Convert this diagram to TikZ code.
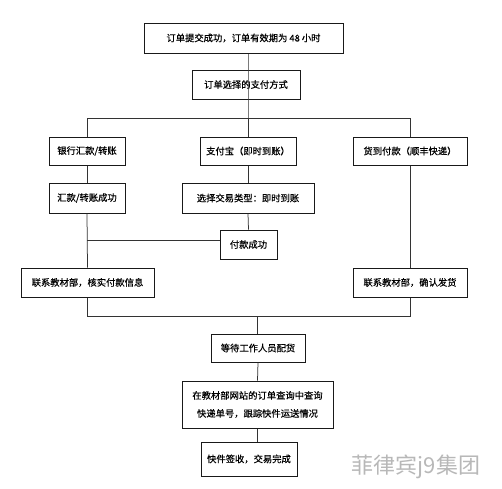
\documentclass[tikz,border=0pt]{standalone}
\usepackage{fontspec}
\setmainfont{Noto Sans CJK SC}
\newfontfamily\boxfont[FakeBold=0.5]{Noto Sans CJK SC}
\newfontfamily\wmfont{Noto Sans CJK SC}
\begin{document}
\begin{tikzpicture}[x=1pt,y=-1pt,
  flowbox/.style={draw=black!90, line width=1pt, inner sep=0pt, align=center,
    font=\boxfont\fontsize{9.3}{18}\selectfont, text=black},
  conn/.style={draw=black!80, line width=0.75pt}]
\useasboundingbox (0,0) rectangle (502,488);
\fill[white] (0,0) rectangle (502,488);
% boxes
\node[flowbox, minimum width=199pt, minimum height=30pt] (b1) at (243.5,38) {订单提交成功，订单有效期为 48 小时};
\node[flowbox, minimum width=108pt, minimum height=29pt] (b2) at (246,84.5) {订单选择的支付方式};
\node[flowbox, minimum width=76pt, minimum height=28pt] (b3) at (87,151) {银行汇款/转账};
\node[flowbox, minimum width=96pt, minimum height=28pt] (b4) at (248,151) {支付宝（即时到账）};
\node[flowbox, minimum width=114pt, minimum height=28pt] (b5) at (410,151) {货到付款（顺丰快递）};
\node[flowbox, minimum width=76pt, minimum height=30pt] (b6) at (87,198) {汇款/转账成功};
\node[flowbox, minimum width=132pt, minimum height=30pt] (b7) at (248,198) {选择交易类型：即时到账};
\node[flowbox, minimum width=57pt, minimum height=29pt] (b8) at (248.5,244.5) {付款成功};
\node[flowbox, minimum width=133pt, minimum height=29pt] (b9) at (87.5,282.5) {联系教材部，核实付款信息};
\node[flowbox, minimum width=114pt, minimum height=29pt] (b10) at (410,282.5) {联系教材部，确认发货};
\node[flowbox, minimum width=94pt, minimum height=28pt] (b11) at (258,348) {等待工作人员配货};
\node[flowbox, minimum width=151pt, minimum height=47pt] (b12) at (257.5,404.5) {在教材部网站的订单查询中查询\\快递单号，跟踪快件运送情况};
\node[flowbox, minimum width=96pt, minimum height=34pt] (b13) at (249,459) {快件签收，交易完成};
% watermark
\node[text=black!28, font=\wmfont\fontsize{22}{24}\selectfont, inner sep=0pt] (wm) at (416,467) {菲律宾j9集团};
% junction coordinates
\coordinate (jl) at (87,118);
\coordinate (jr) at (410,118);
\coordinate (ml) at (87.5,316);
\coordinate (mr) at (410,316);
\coordinate (mc) at (257,316);
\coordinate (k) at ([yshift=4.5pt]b8.west);
% connectors
\draw[conn] (b1.south -| b4) -- (b2.south -| b4) -- (b4.north);
\draw[conn] (jl) -- (jr);
\draw[conn] (jl) -- (b3.north);
\draw[conn] (jr) -- (b5.north);
\draw[conn] (b3.south) -- (b6.north);
\draw[conn] (b4.south) -- (b7.north);
\draw[conn] (b7.south) -- (b8.north);
\draw[conn] (b6.south) -- (b9.north);
\draw[conn] (k) -- (k -| b6);
\draw[conn] (b5.south) -- (b10.north);
\draw[conn] (b9.south) -- (ml) -- (mr) -- (b10.south);
\draw[conn] (mc) -- (mc |- b11.north);
\draw[conn] (b11.south) -- (b12.north);
\draw[conn] (b12.south) -- (b12.south |- b13.north);
\end{tikzpicture}
\end{document}
